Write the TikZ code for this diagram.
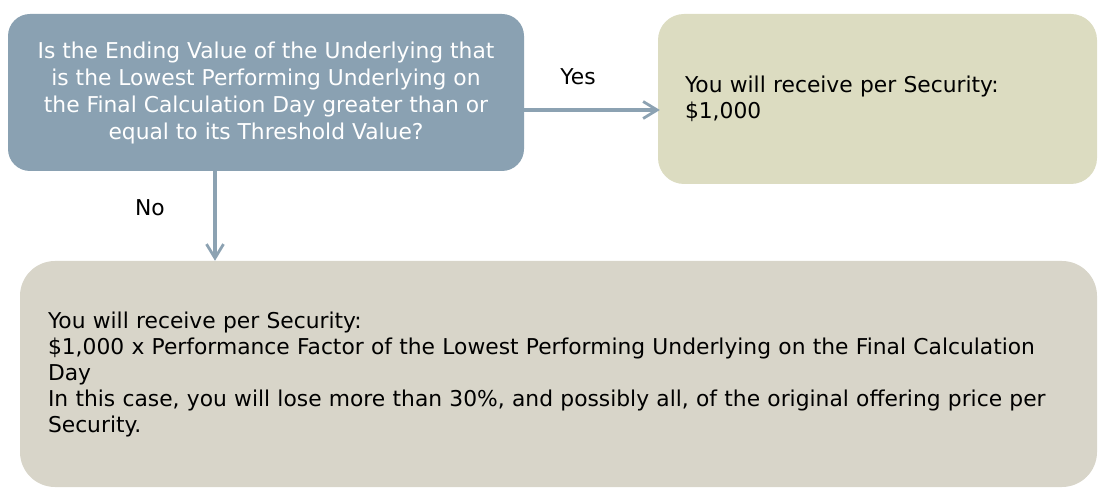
\documentclass[tikz,border=0pt]{standalone}
\usepackage{fontspec}
\setmainfont{DejaVu Sans}
\usetikzlibrary{arrows.meta}

\definecolor{qblue}{HTML}{8AA1B2}
\definecolor{yesfill}{HTML}{DCDCC1}
\definecolor{nofill}{HTML}{D8D5C9}
\definecolor{arrowgray}{HTML}{8CA2B2}

\tikzset{
  decision/.style={rounded corners=22pt, fill=qblue, text=white, align=center,
    inner sep=0pt, font=\fontsize{21.8}{27}\selectfont},
  outcome/.style={rounded corners=26pt, align=left, text=black, inner sep=0pt,
    font=\fontsize{21.8}{26}\selectfont},
  flow/.style={draw=arrowgray, line width=3.2pt,
    -{Straight Barb[length=14pt,width=17pt,line width=2.8pt]}},
  answer/.style={font=\fontsize{21.8}{24}\selectfont}
}

\begin{document}
\begin{tikzpicture}[x=1pt,y=1pt]

      \useasboundingbox (0,0) rectangle (1110,-502);

      \node[decision, minimum width=516pt, minimum height=157pt] (q) at (266,-92.5)
        {Is the Ending Value of the Underlying that\\
         is the Lowest Performing Underlying on\\
         the Final Calculation Day greater than or\\
         equal to its Threshold Value?};

      \node[outcome, fill=yesfill, minimum width=439pt, minimum height=170pt,
            text width=385pt] (yes) at (877.5,-99)
        {You will receive per Security:\\
         \$1,000};

      \node[outcome, fill=nofill, rounded corners=35pt, minimum width=1077pt,
            minimum height=226pt, text width=1021pt] (no) at (558.5,-374)
        {You will receive per Security:\\
         \$1,000 x Performance Factor of the Lowest Performing Underlying on the Final Calculation\\
         Day\\
         In this case, you will lose more than 30\%, and possibly all, of the original offering price per\\
         Security.};

      \node[answer] (yeslabel) at (578,-77) {Yes};
      \node[answer] (nolabel)  at (150,-208) {No};

      \draw[flow] ([yshift=-17.5pt]q.east) -- ([yshift=-11pt,xshift=2pt]yes.west);
      \draw[flow] ([xshift=-51pt]q.south) -- ([xshift=-343.5pt]no.north);

    \end{tikzpicture}
\end{document}
